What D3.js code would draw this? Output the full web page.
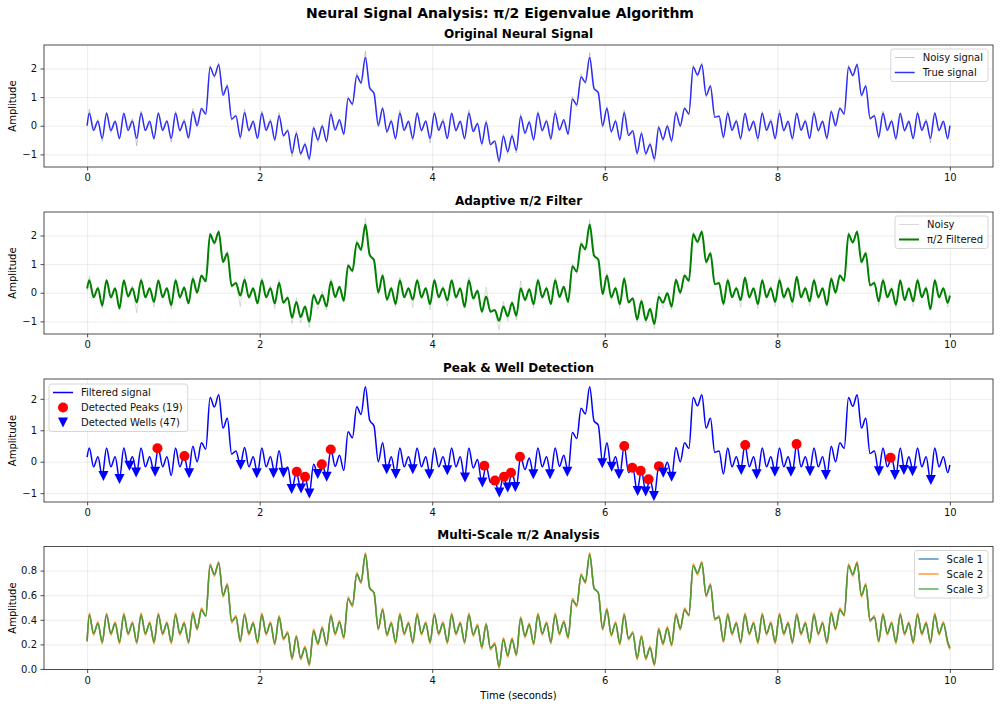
<!DOCTYPE html>
<head>
<meta charset="utf-8">

<!-- load the d3.js library -->
<script src="https://cdnjs.cloudflare.com/ajax/libs/d3/7.8.5/d3.min.js"></script>

<style> /* set the CSS */

body { margin: 0; background: #fff; font-family: "DejaVu Sans", sans-serif; }

.axis path,
.axis line {
    fill: none;
    stroke: #222;
    stroke-width: 0.8;
}

.axis text {
    font-family: "DejaVu Sans", sans-serif;
    font-size: 10px;
    fill: #111;
}

.grid line {
  stroke: #b0b0b0;
  stroke-opacity: 0.3;
  stroke-width: 0.8;
}

.grid path {
  stroke-width: 0;
}

.title {
    font-weight: bold;
    text-anchor: middle;
    fill: #000;
}

.legend text {
    font-size: 10px;
    fill: #111;
}

</style>
<body>

<script>

// time axis ticks (seconds)
var xTicks = [0, 2, 4, 6, 8, 10];

// the signals are read at t = 0, 0.025, 0.075, ... 9.975, 10  (the wiggle extremes)
var sampleTimes = [0].concat(d3.range(0.025, 10, 0.05), [10]);

// true signal (panel 1, blue)
var trueSignal = [0,
  0.44,-0.16,0.16,-0.44, 0.44,-0.16,0.16,-0.44, 0.44,-0.16,0.16,-0.44, 0.44,-0.16,0.16,-0.44, 0.44,-0.16,0.16,-0.44,
  0.44,-0.16,0.16,-0.43, 0.49,0.0,0.60,0.40, 2.04,1.74,2.13,1.07, 1.38,0.24,0.34,-0.39, 0.45,-0.16,0.16,-0.44,
  0.44,-0.16,0.16,-0.48, 0.35,-0.34,-0.17,-0.96, -0.27,-0.97,-0.65,-1.15, -0.08,-0.49,-0.02,-0.53, 0.40,-0.15,0.21,-0.28,
  0.95,0.76,1.75,1.50, 2.38,1.32,1.14,0.0, 0.60,-0.20,0.16,-0.44, 0.44,-0.16,0.16,-0.44, 0.44,-0.16,0.16,-0.44,
  0.44,-0.16,0.16,-0.44, 0.44,-0.16,0.16,-0.44, 0.44,-0.20,0.07,-0.62, 0.11,-0.66,-0.53,-1.23, -0.37,-0.90,-0.36,-0.85,
  0.32,-0.25,0.12,-0.48, 0.44,-0.16,0.16,-0.46, 0.44,-0.15,0.21,-0.28, 0.93,0.74,1.70,1.52, 2.38,1.30,1.16,0.0,
  0.60,-0.20,0.16,-0.48, 0.45,-0.34,-0.17,-0.96, -0.27,-0.97,-0.65,-1.15, -0.06,-0.47,-0.02,-0.52, 0.45,0.0,0.60,0.42,
  2.04,1.78,2.13,1.07, 1.38,0.30,0.34,-0.39, 0.44,-0.16,0.16,-0.44, 0.44,-0.16,0.16,-0.44, 0.44,-0.16,0.16,-0.44,
  0.44,-0.16,0.16,-0.44, 0.44,-0.16,0.16,-0.44, 0.44,-0.16,0.16,-0.43, 0.49,0.0,0.60,0.42, 2.04,1.76,2.13,1.07,
  1.38,0.26,0.34,-0.39, 0.44,-0.16,0.16,-0.44, 0.44,-0.16,0.16,-0.44, 0.44,-0.16,0.16,-0.44, 0.44,-0.16,0.16,-0.44,
  0];

// noisy signal (grey, panels 1 and 2)
var noisySignal = [0.05,
  0.58,-0.10,0.22,-0.55, 0.47,-0.24,0.12,-0.49, 0.40,-0.08,0.25,-0.70, 0.52,-0.19,0.10,-0.50, 0.47,-0.12,0.20,-0.58,
  0.50,-0.22,0.24,-0.40, 0.60,0.08,0.55,0.45, 2.10,1.66,2.20,1.12, 1.46,0.18,0.40,-0.48, 0.58,-0.22,0.10,-0.41,
  0.52,-0.10,0.24,-0.55, 0.46,-0.40,-0.10,-1.08, -0.18,-1.05,-0.58,-1.22, -0.02,-0.58,0.05,-0.60, 0.50,-0.10,0.14,-0.34,
  1.02,0.70,1.85,1.44, 2.60,1.40,1.08,0.06, 0.66,-0.28,0.22,-0.50, 0.55,-0.10,0.12,-0.52, 0.48,-0.22,0.20,-0.60,
  0.50,-0.12,0.25,-0.47, 0.40,-0.20,0.14,-0.50, 0.56,-0.15,0.12,-0.70, 0.20,-0.60,-0.60,-1.30, -0.30,-0.98,-0.28,-0.95,
  0.42,-0.30,0.18,-0.54, 0.50,-0.22,0.22,-0.40, 0.55,-0.10,0.15,-0.34, 1.02,0.66,1.80,1.46, 2.55,1.36,1.10,-0.06,
  0.68,-0.26,0.22,-0.55, 0.55,-0.28,-0.24,-1.02, -0.20,-1.05,-0.58,-1.26, 0.02,-0.54,0.04,-0.60, 0.52,-0.06,0.66,0.36,
  2.12,1.72,2.20,1.00, 1.44,0.36,0.28,-0.46, 0.52,-0.10,0.22,-0.50, 0.40,-0.22,0.12,-0.55, 0.50,-0.10,0.24,-0.48,
  0.56,-0.20,0.10,-0.52, 0.46,-0.12,0.22,-0.46, 0.52,-0.22,0.14,-0.50, 0.56,0.06,0.66,0.36, 2.12,1.70,2.18,1.02,
  1.44,0.20,0.40,-0.46, 0.52,-0.10,0.22,-0.52, 0.40,-0.22,0.12,-0.48, 0.50,-0.12,0.24,-0.60, 0.48,-0.20,0.10,-0.50,
  0.02];

// pi/2 filtered signal (green in panel 2, blue in panel 3)
var filteredSignal = [0.15,
  0.44,-0.16,0.16,-0.45, 0.44,-0.16,0.16,-0.55, 0.44,-0.13,0.16,-0.34, 0.44,-0.16,0.16,-0.32, 0.43,-0.16,0.16,-0.44,
  0.44,-0.16,0.18,-0.37, 0.49,0.0,0.60,0.40, 2.04,1.74,2.13,1.07, 1.38,0.24,0.34,-0.10, 0.45,-0.16,0.16,-0.37,
  0.44,-0.16,0.16,-0.37, 0.35,-0.35,-0.17,-0.87, -0.32,-0.85,-0.48,-1.01, -0.08,-0.39,-0.08,-0.48, 0.39,-0.15,0.21,-0.28,
  0.95,0.76,1.75,1.50, 2.38,1.32,1.14,0.0, 0.60,-0.24,0.16,-0.39, 0.44,-0.16,0.16,-0.24, 0.44,-0.16,0.16,-0.40,
  0.44,-0.16,0.16,-0.27, 0.44,-0.16,0.16,-0.50, 0.44,-0.20,0.07,-0.66, -0.13,-0.66,-0.60,-0.98, -0.48,-0.82,-0.35,-0.80,
  0.16,-0.25,0.12,-0.40, 0.44,-0.16,0.16,-0.40, 0.44,-0.15,0.21,-0.32, 0.93,0.74,1.70,1.52, 2.38,1.30,1.16,-0.05,
  0.60,-0.16,0.16,-0.40, 0.50,-0.34,-0.19,-0.93, -0.29,-0.95,-0.56,-1.09, -0.14,-0.35,-0.02,-0.48, 0.45,0.0,0.60,0.42,
  2.04,1.78,2.13,1.07, 1.38,0.30,0.34,-0.39, 0.44,-0.16,0.16,-0.26, 0.53,-0.16,0.16,-0.40, 0.44,-0.16,0.16,-0.32,
  0.44,-0.16,0.16,-0.32, 0.56,-0.16,0.16,-0.30, 0.44,-0.16,0.16,-0.42, 0.49,0.0,0.60,0.42, 2.04,1.76,2.13,1.07,
  1.38,0.26,0.34,-0.30, 0.44,-0.16,0.13,-0.42, 0.44,-0.26,0.16,-0.30, 0.44,-0.16,0.16,-0.58, 0.44,-0.16,0.16,-0.35,
  -0.10];

// multi-scale analysis (panel 4)
var scale3 = [0.23,
  0.44,0.29,0.37,0.22, 0.44,0.29,0.37,0.22, 0.44,0.29,0.37,0.22, 0.44,0.29,0.37,0.22, 0.44,0.29,0.37,0.22,
  0.44,0.29,0.37,0.22, 0.45,0.33,0.48,0.43, 0.84,0.77,0.86,0.60, 0.68,0.39,0.42,0.23, 0.44,0.29,0.37,0.22,
  0.44,0.29,0.37,0.21, 0.42,0.25,0.29,0.09, 0.26,0.09,0.17,0.04, 0.31,0.21,0.33,0.20, 0.43,0.29,0.38,0.26,
  0.57,0.52,0.77,0.71, 0.93,0.66,0.62,0.33, 0.48,0.28,0.37,0.22, 0.44,0.29,0.37,0.22, 0.44,0.29,0.37,0.22,
  0.44,0.29,0.37,0.22, 0.44,0.29,0.37,0.22, 0.44,0.28,0.35,0.18, 0.36,0.17,0.20,0.02, 0.24,0.11,0.24,0.12,
  0.41,0.27,0.36,0.21, 0.44,0.29,0.37,0.22, 0.44,0.29,0.38,0.26, 0.56,0.52,0.76,0.71, 0.93,0.66,0.62,0.33,
  0.48,0.28,0.37,0.21, 0.44,0.25,0.29,0.09, 0.26,0.09,0.17,0.04, 0.32,0.21,0.33,0.20, 0.44,0.33,0.48,0.44,
  0.84,0.78,0.86,0.60, 0.68,0.41,0.42,0.23, 0.44,0.29,0.37,0.22, 0.44,0.29,0.37,0.22, 0.44,0.29,0.37,0.22,
  0.44,0.29,0.37,0.22, 0.44,0.29,0.37,0.22, 0.44,0.29,0.37,0.22, 0.45,0.33,0.48,0.44, 0.84,0.77,0.86,0.60,
  0.68,0.40,0.42,0.23, 0.44,0.29,0.37,0.22, 0.44,0.29,0.37,0.22, 0.44,0.29,0.37,0.22, 0.44,0.29,0.37,0.22,
  0.17];

var scale2 = [0.22,
  0.455,0.275,0.385,0.205, 0.455,0.275,0.385,0.205, 0.455,0.275,0.385,0.205, 0.455,0.275,0.385,0.205, 0.455,0.275,0.385,0.205,
  0.455,0.275,0.385,0.205, 0.465,0.315,0.495,0.43, 0.855,0.755,0.875,0.585, 0.695,0.375,0.435,0.215, 0.455,0.275,0.385,0.205,
  0.455,0.275,0.385,0.195, 0.435,0.235,0.305,0.075, 0.275,0.075,0.185,0.025, 0.325,0.195,0.345,0.185, 0.445,0.275,0.395,0.245,
  0.585,0.505,0.785,0.695, 0.945,0.66,0.62,0.315, 0.495,0.265,0.385,0.205, 0.455,0.275,0.385,0.205, 0.455,0.275,0.385,0.205,
  0.455,0.275,0.385,0.205, 0.455,0.275,0.385,0.205, 0.455,0.265,0.365,0.165, 0.375,0.155,0.215,0.005, 0.255,0.095,0.255,0.105,
  0.425,0.255,0.375,0.195, 0.455,0.275,0.385,0.205, 0.455,0.275,0.395,0.245, 0.575,0.505,0.775,0.695, 0.945,0.66,0.62,0.315,
  0.495,0.265,0.385,0.195, 0.455,0.235,0.305,0.075, 0.275,0.075,0.185,0.025, 0.335,0.195,0.345,0.185, 0.455,0.315,0.495,0.43,
  0.855,0.765,0.875,0.585, 0.695,0.395,0.435,0.215, 0.455,0.275,0.385,0.205, 0.455,0.275,0.385,0.205, 0.455,0.275,0.385,0.205,
  0.455,0.275,0.385,0.205, 0.455,0.275,0.385,0.205, 0.455,0.275,0.385,0.205, 0.465,0.315,0.495,0.43, 0.855,0.755,0.875,0.585,
  0.695,0.385,0.435,0.215, 0.455,0.275,0.385,0.205, 0.455,0.275,0.385,0.205, 0.455,0.275,0.385,0.205, 0.455,0.275,0.385,0.205,
  0.16];

// scale 1 lies exactly under scale 3 in the picture
var scale1 = scale3;

// detected peaks and wells (panel 3)
var peakTimes = [0.815,1.128,2.43,2.526,2.72,2.824,4.604,4.728,4.832,4.913,5.017,6.226,6.319,6.416,6.508,6.628,7.628,8.223,9.313];
var peakValues = [0.43,0.18,-0.32,-0.48,-0.08,0.39,-0.13,-0.6,-0.48,-0.35,0.16,0.5,-0.19,-0.29,-0.56,-0.14,0.53,0.56,0.13];

var wellTimes = [0.189,0.375,0.49,0.568,0.788,1.182,1.78,1.966,2.16,2.275,2.37,2.48,2.576,2.673,2.777,
  3.472,3.577,3.774,3.967,4.175,4.38,4.581,4.778,4.875,4.963,5.172,5.365,5.566,5.971,6.08,6.165,6.381,6.474,6.57,6.678,6.775,
  7.582,7.76,7.972,8.158,8.378,8.563,9.177,9.363,9.467,9.567,9.78];
var wellValues = [-0.45,-0.55,-0.13,-0.34,-0.32,-0.37,-0.1,-0.37,-0.37,-0.35,-0.87,-0.85,-1.01,-0.39,-0.48,
  -0.24,-0.39,-0.24,-0.4,-0.27,-0.5,-0.66,-0.98,-0.82,-0.8,-0.4,-0.4,-0.32,-0.05,-0.16,-0.4,-0.93,-0.95,-1.09,-0.35,-0.48,
  -0.26,-0.4,-0.32,-0.32,-0.3,-0.42,-0.3,-0.42,-0.26,-0.3,-0.58];


// set the dimensions of the figure
var figW = 1000, figH = 709;
var plotLeft = 44, plotRight = 993;

var svg = d3.select("body").append("svg")
    .attr("width", figW)
    .attr("height", figH)
    .style("font-family", "'DejaVu Sans', sans-serif");

// shared time scale
var x = d3.scaleLinear().domain([-0.5, 10.5]).range([plotLeft, plotRight]);

function minusFormat(d) {
  return d < 0 ? "\u2212" + Math.abs(d) : String(d);
}

// builds one subplot: grid, axes, frame and title
function makePanel(top, bottom, yDomain, yTicks, yFormat, title) {
  var y = d3.scaleLinear().domain(yDomain).range([bottom, top]);
  var g = svg.append("g");

  // add the X gridlines
  g.append("g")
      .attr("class", "grid")
      .attr("transform", "translate(0," + bottom + ")")
      .call(d3.axisBottom(x).tickValues(xTicks).tickSize(-(bottom - top)).tickFormat(""));

  // add the Y gridlines
  g.append("g")
      .attr("class", "grid")
      .attr("transform", "translate(" + plotLeft + ",0)")
      .call(d3.axisLeft(y).tickValues(yTicks).tickSize(-(plotRight - plotLeft)).tickFormat(""));

  var marks = g.append("g");

  // frame
  g.append("rect")
      .attr("x", plotLeft).attr("y", top)
      .attr("width", plotRight - plotLeft).attr("height", bottom - top)
      .attr("fill", "none").attr("stroke", "#222").attr("stroke-width", 0.8);

  // add the X Axis
  g.append("g")
      .attr("class", "axis")
      .attr("transform", "translate(0," + bottom + ")")
      .call(d3.axisBottom(x).tickValues(xTicks).tickSize(3.5).tickPadding(3.5).tickSizeOuter(0))
      .call(function(a) { a.select(".domain").remove(); });

  // add the Y Axis
  g.append("g")
      .attr("class", "axis")
      .attr("transform", "translate(" + plotLeft + ",0)")
      .call(d3.axisLeft(y).tickValues(yTicks).tickFormat(yFormat).tickSize(3.5).tickPadding(3.5).tickSizeOuter(0))
      .call(function(a) { a.select(".domain").remove(); });

  // Y axis text label
  g.append("text")
      .attr("transform", "translate(16," + ((top + bottom) / 2) + ") rotate(-90)")
      .style("text-anchor", "middle")
      .style("font-size", "10px")
      .text("Amplitude");

  // subplot title
  g.append("text")
      .attr("class", "title")
      .attr("x", (plotLeft + plotRight) / 2)
      .attr("y", top - 7.5)
      .style("font-size", "12px")
      .text(title);

  return {g: marks, y: y, top: top, bottom: bottom, root: g};
}

function lineFor(y, values, curve) {
  return d3.line()
      .x(function(d, i) { return x(sampleTimes[i]); })
      .y(function(d) { return y(d); })
      .curve(curve)(values);
}

var wellPath = "M-5,-5L5,-5L0,5Z";

// legend box; right-anchored when anchorRight is set
function drawLegend(panel, px, py, anchorRight, rows) {
  var lg = panel.root.append("g").attr("class", "legend");
  var box = lg.append("rect");
  var texts = [];
  rows.forEach(function(r, i) {
    texts.push(lg.append("text").attr("y", 0).text(r.label));
  });
  var tw = d3.max(texts, function(t) { return t.node().getComputedTextLength(); });
  var w = 4 + 20 + 8 + tw + 5;
  var h = 8.5 + 15 * (rows.length - 1) + 9;
  var bx = anchorRight ? px - w : px;
  box.attr("x", bx).attr("y", py).attr("width", w).attr("height", h)
     .attr("rx", 2.5)
     .attr("fill", "white").attr("fill-opacity", 0.85)
     .attr("stroke", "#cccccc").attr("stroke-width", 0.8);
  rows.forEach(function(r, i) {
    var cy = py + 8.5 + 15 * i;
    texts[i].attr("x", bx + 32).attr("y", cy + 3.6);
    if (r.type === "line") {
      lg.append("line")
          .attr("x1", bx + 4).attr("x2", bx + 24)
          .attr("y1", cy).attr("y2", cy)
          .attr("stroke", r.color).attr("stroke-width", r.width)
          .attr("stroke-opacity", r.opacity);
    } else if (r.type === "circle") {
      lg.append("circle").attr("cx", bx + 14).attr("cy", cy).attr("r", 5).attr("fill", r.color);
    } else {
      lg.append("path").attr("d", wellPath)
          .attr("transform", "translate(" + (bx + 14) + "," + cy + ")")
          .attr("fill", r.color);
    }
  });
}

// main title
svg.append("text")
    .attr("class", "title")
    .attr("x", figW / 2)
    .attr("y", 18)
    .style("font-size", "14px")
    .text("Neural Signal Analysis: \u03c0/2 Eigenvalue Algorithm");

// ---- panel 1: original signal
var p1 = makePanel(45, 167, [-1.44, 2.82], [-1, 0, 1, 2], minusFormat, "Original Neural Signal");
p1.g.append("path")
    .attr("d", lineFor(p1.y, noisySignal, d3.curveLinear))
    .attr("fill", "none").attr("stroke", "gray").attr("stroke-opacity", 0.45).attr("stroke-width", 0.9);
p1.g.append("path")
    .attr("d", lineFor(p1.y, trueSignal, d3.curveMonotoneX))
    .attr("fill", "none").attr("stroke", "blue").attr("stroke-opacity", 0.8).attr("stroke-width", 1.5);
drawLegend(p1, 988, 49, true, [
  {type: "line", label: "Noisy signal", color: "gray", width: 1, opacity: 0.45},
  {type: "line", label: "True signal", color: "blue", width: 1.5, opacity: 0.8}
]);

// ---- panel 2: adaptive filter
var p2 = makePanel(212, 334, [-1.44, 2.82], [-1, 0, 1, 2], minusFormat, "Adaptive \u03c0/2 Filter");
p2.g.append("path")
    .attr("d", lineFor(p2.y, noisySignal, d3.curveLinear))
    .attr("fill", "none").attr("stroke", "gray").attr("stroke-opacity", 0.3).attr("stroke-width", 0.9);
p2.g.append("path")
    .attr("d", lineFor(p2.y, filteredSignal, d3.curveMonotoneX))
    .attr("fill", "none").attr("stroke", "green").attr("stroke-width", 2);
drawLegend(p2, 988, 216, true, [
  {type: "line", label: "Noisy", color: "gray", width: 1, opacity: 0.3},
  {type: "line", label: "\u03c0/2 Filtered", color: "green", width: 2, opacity: 1}
]);

// ---- panel 3: peak & well detection
var p3 = makePanel(379, 502, [-1.28, 2.63], [-1, 0, 1, 2], minusFormat, "Peak & Well Detection");
p3.g.append("path")
    .attr("d", lineFor(p3.y, filteredSignal, d3.curveMonotoneX))
    .attr("fill", "none").attr("stroke", "blue").attr("stroke-width", 1.5);
p3.g.selectAll(".peak")
    .data(peakTimes)
  .enter().append("circle")
    .attr("class", "peak")
    .attr("cx", function(d) { return x(d); })
    .attr("cy", function(d, i) { return p3.y(peakValues[i]); })
    .attr("r", 5)
    .attr("fill", "red");
p3.g.selectAll(".well")
    .data(wellTimes)
  .enter().append("path")
    .attr("class", "well")
    .attr("d", wellPath)
    .attr("transform", function(d, i) { return "translate(" + x(d) + "," + p3.y(wellValues[i]) + ")"; })
    .attr("fill", "blue");
drawLegend(p3, 49, 384, false, [
  {type: "line", label: "Filtered signal", color: "blue", width: 1.5, opacity: 1},
  {type: "circle", label: "Detected Peaks (" + peakTimes.length + ")", color: "red"},
  {type: "tri", label: "Detected Wells (" + wellTimes.length + ")", color: "blue"}
]);

// ---- panel 4: multi-scale analysis
var p4 = makePanel(546.5, 669.5, [-0.004, 0.996], [0, 0.2, 0.4, 0.6, 0.8], d3.format(".1f"), "Multi-Scale \u03c0/2 Analysis");
var scaleSeries = [
  {label: "Scale 1", values: scale1, color: "#1f77b4"},
  {label: "Scale 2", values: scale2, color: "#ff7f0e"},
  {label: "Scale 3", values: scale3, color: "#2ca02c"}
];
scaleSeries.forEach(function(s) {
  p4.g.append("path")
      .attr("d", lineFor(p4.y, s.values, d3.curveMonotoneX))
      .attr("fill", "none").attr("stroke", s.color).attr("stroke-opacity", 0.8).attr("stroke-width", 1.5);
});
drawLegend(p4, 988, 550.5, true, scaleSeries.map(function(s) {
  return {type: "line", label: s.label, color: s.color, width: 1.5, opacity: 0.8};
}));

// X axis text label
svg.append("text")
    .attr("x", (plotLeft + plotRight) / 2)
    .attr("y", 699)
    .style("text-anchor", "middle")
    .style("font-size", "10px")
    .text("Time (seconds)");

</script>
</body>
